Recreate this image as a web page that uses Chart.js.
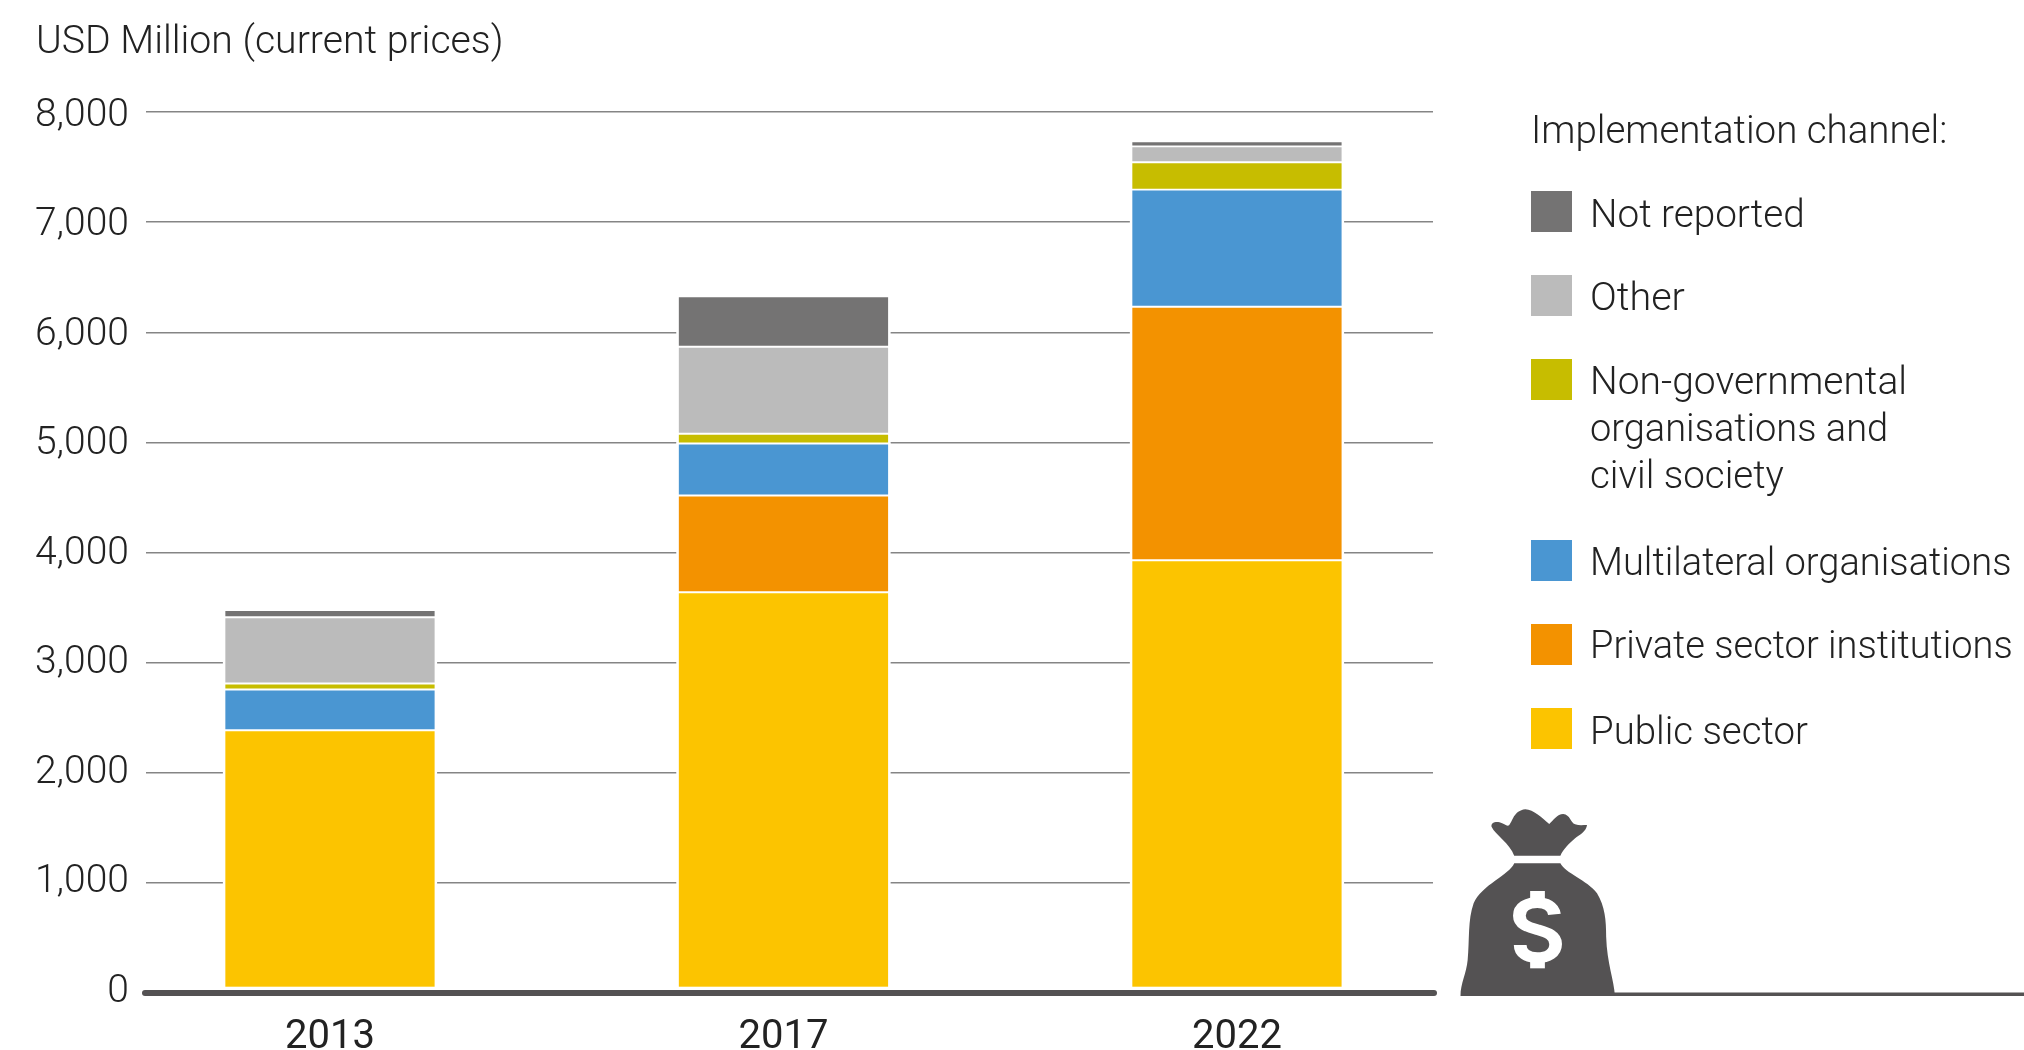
<!DOCTYPE html>
<html>
<head>
<meta charset="utf-8">
<style>
html,body{margin:0;padding:0;background:#fff;width:2024px;height:1050px;overflow:hidden}
#wrap{position:relative;width:2024px;height:1050px}
canvas{position:absolute;left:0;top:0}
svg{position:absolute;left:0;top:0}
</style>
<script src="https://cdn.jsdelivr.net/npm/chart.js@4"></script>
</head>
<body>
<div id="wrap">
<canvas id="c" width="2024" height="1050"></canvas>
<svg width="2024" height="1050" viewBox="0 0 2024 1050">
  <rect x="1600" y="992.5" width="424" height="3.5" fill="#545253"/>
  <g transform="translate(1400,780) scale(0.398,0.33333)">
    <path fill="#545253" d="M287 227C276 190 240 165 230 140C228 128 240 123 250 127C262 131 268 140 274 136C283 125 285 92 315 88C335 88 358 115 375 132C385 122 395 102 410 102C428 104 428 128 440 133C450 137 460 135 470 135C468 155 450 165 440 175C425 190 410 208 403 227Z"/>
    <path fill="#545253" d="M287 250C275 285 205 315 185 370C170 420 175 480 170 540C167 580 152 610 152 648L540 648C538 600 520 550 518 470C518 420 515 380 495 340C470 300 415 280 403 250Z"/>
    <path fill="none" stroke="#fff" stroke-width="32" d="M388 403C385 378 365 368 345 368C320 368 300 380 300 407C300 435 325 442 345 449C370 458 391 465 391 492C391 520 370 533 345 533C320 533 302 520 302 495"/>
    <rect x="327" y="333" width="37" height="30" fill="#fff"/>
    <rect x="327" y="535" width="37" height="30" fill="#fff"/>
  </g>
</svg>
</div>
<script>
const categories = ['2013', '2017', '2022'];
const publicSector = [2386, 3639, 3929];
const privateSector = [0, 879, 2302];
const multilateral = [370, 471, 1064];
const ngo = [54, 89, 248];
const other = [602, 790, 145];
const notReported = [66, 459, 45];
const yTicks = [0, 1000, 2000, 3000, 4000, 5000, 6000, 7000, 8000];

const COLORS = {pub:'#FCC400', priv:'#F39200', multi:'#4A96D2', ngo:'#C7BD00', other:'#BBBBBB', nr:'#747373'};
const FONT = 'Roboto, sans-serif';
const TEXT = '#222222';

function ds(label, values, color){
  return {
    label, backgroundColor: color, borderColor:'#fff',
    borderWidth:{top:1.3,bottom:1.3,left:2.7,right:2.7}, borderSkipped:false,
    barThickness:214, stack:'s',
    data: values.map((v,i)=>({x:i,y:v}))
  };
}

const legendEntries = [
  {lines:['Not reported'], sizes:[38.7], color:COLORS.nr, box:191, base:[227]},
  {lines:['Other'], sizes:[39.5], color:COLORS.other, box:275, base:[310]},
  {lines:['Non-governmental','organisations and','civil society'], sizes:[39,38,38.5], color:COLORS.ngo, box:359, base:[394,441,488]},
  {lines:['Multilateral organisations'], sizes:[38.1], color:COLORS.multi, box:540, base:[575]},
  {lines:['Private sector institutions'], sizes:[38], color:COLORS.priv, box:624, base:[658]},
  {lines:['Public sector'], sizes:[38.4], color:COLORS.pub, box:708, base:[744]}
];

function setFont(ctx, size){ ctx.font = '300 ' + size + 'px ' + FONT; }

const overlay = {
  id:'overlay',
  afterDatasetsDraw(chart){
    const {ctx, chartArea, scales} = chart;
    const y0 = scales.y.getPixelForValue(0);
    ctx.save();
    ctx.fillStyle = '#fff';
    ctx.fillRect(chartArea.left, y0-6.3, chartArea.right-chartArea.left, 3.5);
    ctx.strokeStyle = '#545253';
    ctx.lineWidth = 6;
    ctx.lineCap = 'round';
    ctx.beginPath();
    ctx.moveTo(chartArea.left-1, y0);
    ctx.lineTo(chartArea.right+1, y0);
    ctx.stroke();
    ctx.restore();
  },
  afterDraw(chart){
    const {ctx} = chart;
    ctx.save();
    ctx.fillStyle = TEXT;
    ctx.textBaseline = 'alphabetic';
    ctx.textAlign = 'left';
    setFont(ctx, 39.2);
    ctx.fillText('USD Million (current prices)', 36, 53);
    setFont(ctx, 38.5);
    ctx.fillText('Implementation channel:', 1531, 143);
    legendEntries.forEach(e=>{
      ctx.fillStyle = e.color;
      ctx.fillRect(1531, e.box, 41, 41);
      ctx.fillStyle = TEXT;
      e.lines.forEach((t,i)=>{
        setFont(ctx, e.sizes[i]);
        ctx.fillText(t, 1590, e.base[i]);
      });
    });
    ctx.restore();
  }
};

new Chart(document.getElementById('c'), {
  type:'bar',
  data:{
    labels: categories,
    datasets:[
      ds('Public sector', publicSector, COLORS.pub),
      ds('Private sector institutions', privateSector, COLORS.priv),
      ds('Multilateral organisations', multilateral, COLORS.multi),
      ds('Non-governmental organisations and civil society', ngo, COLORS.ngo),
      ds('Other', other, COLORS.other),
      ds('Not reported', notReported, COLORS.nr)
    ]
  },
  options:{
    responsive:false, animation:false,
    layout:{padding:{top:112,right:591,bottom:0,left:0}},
    plugins:{legend:{display:false},title:{display:false},tooltip:{enabled:false}},
    scales:{
      x:{
        type:'linear', stacked:true, position:'bottom', offset:false,
        min:-0.4057, max:2.4323,
        grid:{display:false, offset:false}, border:{display:false},
        afterBuildTicks(s){s.ticks = categories.map((c,i)=>({value:i}));},
        ticks:{
          autoSkip:false, maxRotation:0, padding:13,
          color:TEXT, font:{family:FONT,size:40,weight:'400'},
          callback:v=>categories[v]
        },
        afterFit(s){s.height=57;}
      },
      y:{
        stacked:true, min:0, max:8000, position:'left', weight:1,
        afterBuildTicks(s){s.ticks = yTicks.map(value=>({value}));},
        ticks:{display:false},
        grid:{color:'#858585', lineWidth:1.4, drawTicks:false},
        border:{display:false},
        afterFit(s){s.width=0;}
      },
      yLabels:{
        type:'linear', position:'left', weight:2,
        min:-7, max:8036,
        grid:{display:false}, border:{display:false},
        afterBuildTicks(s){s.ticks = yTicks.map(value=>({value}));},
        ticks:{
          autoSkip:false, padding:9,
          color:TEXT, font:{family:FONT,size:39,weight:'300'},
          callback:v=>v.toLocaleString('en-US')
        },
        afterFit(s){s.width=146;}
      }
    }
  },
  plugins:[overlay]
});
</script>
</body>
</html>
